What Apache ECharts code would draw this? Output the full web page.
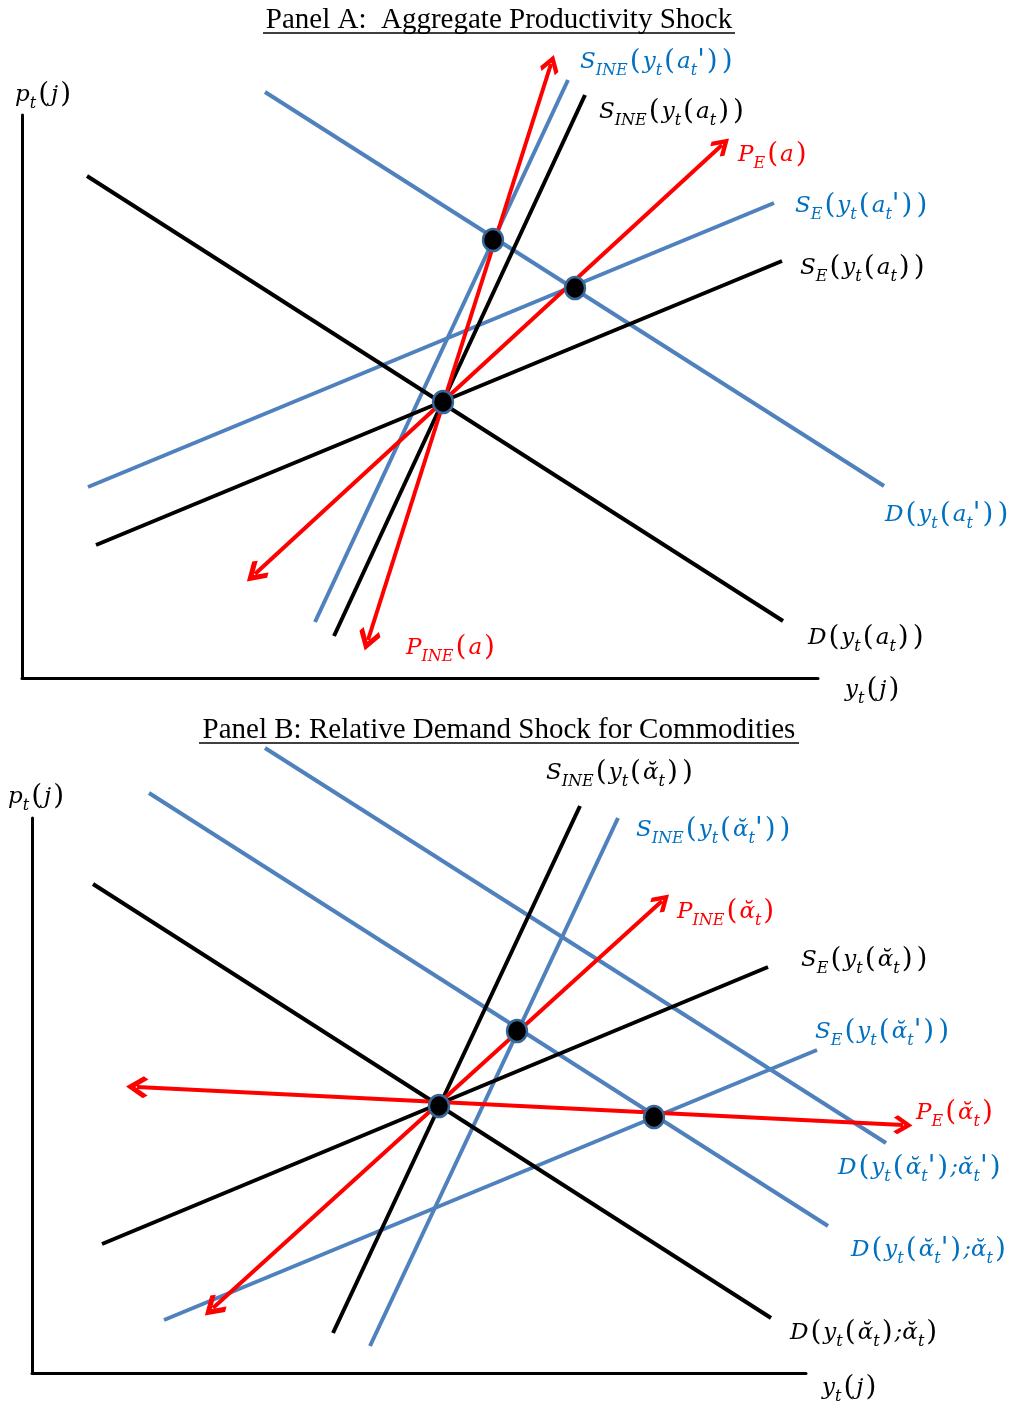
<!DOCTYPE html>
<html><head><meta charset="utf-8">
<script src="https://cdn.jsdelivr.net/npm/echarts@6/dist/echarts.min.js"></script>
<style>html,body{margin:0;padding:0;background:#fff}#c{width:1011px;height:1405px}</style>
</head><body><div id="c"></div>
<script>
// ---- Panel A: line end points (quantity, price), measured from the axis origin ----
const aDemand      = [[65,502],[761,57]];
const aDemandNew   = [[243,586],[862,192]];
const aSupplyE     = [[74,133],[760,417]];
const aSupplyENew  = [[66,191],[752,475]];
const aSupplyINE   = [[312,42],[563,583]];
const aSupplyINENew= [[293,56],[546,598]];
const aPathE       = [[233,104],[700,533]];
const aPathINE     = [[346,38],[529,614]];
const aEquilibria  = [[421,276],[471,438],[553,390]];

// ---- Panel B ----
const bDemand        = [[61,489],[739,55]];
const bDemandNewOld  = [[117,580],[796,147]];
const bDemandNewNew  = [[233,625],[854,230]];
const bSupplyE       = [[70,129],[736,406]];
const bSupplyENew    = [[132,53],[785,323]];
const bSupplyINE     = [[301,40],[548,567]];
const bSupplyINENew  = [[338,27],[586,555]];
const bPathINE       = [[181,65],[630,472]];
const bPathE         = [[105,286],[871,248]];
const bEquilibria    = [[407,267],[485,342],[622,256]];

const titles = ['Panel A:  Aggregate Productivity Shock', 'Panel B: Relative Demand Shock for Commodities'];
const AL = "\u1FB0", PR = "'";
const labelsA = [
  ["S_{INE}(y_{t}(a_{t}"+PR+"))", 'blue', 580, 62],
  ["S_{INE}(y_{t}(a_{t}))", 'black', 599, 112],
  ["P_{E}(a)", 'red', 738, 155],
  ["S_{E}(y_{t}(a_{t}"+PR+"))", 'blue', 795, 206],
  ["S_{E}(y_{t}(a_{t}))", 'black', 800, 268],
  ["D(y_{t}(a_{t}"+PR+"))", 'blue', 885, 515],
  ["D(y_{t}(a_{t}))", 'black', 808, 638],
  ["P_{INE}(a)", 'red', 406, 648],
  ["y_{t}(j)", 'black', 845, 690],
  ["p_{t}(j)", 'black', 15, 95]
];
const labelsB = [
  ["S_{INE}(y_{t}("+AL+"_{t}))", 'black', 546, 773],
  ["S_{INE}(y_{t}("+AL+"_{t}"+PR+"))", 'blue', 636, 830],
  ["P_{INE}("+AL+"_{t})", 'red', 677, 912],
  ["S_{E}(y_{t}("+AL+"_{t}))", 'black', 801, 960],
  ["S_{E}(y_{t}("+AL+"_{t}"+PR+"))", 'blue', 815, 1032],
  ["P_{E}("+AL+"_{t})", 'red', 916, 1113],
  ["D(y_{t}("+AL+"_{t}"+PR+");"+AL+"_{t}"+PR+")", 'blue', 838, 1168],
  ["D(y_{t}("+AL+"_{t}"+PR+");"+AL+"_{t})", 'blue', 851, 1250],
  ["D(y_{t}("+AL+"_{t});"+AL+"_{t})", 'black', 790, 1333],
  ["y_{t}(j)", 'black', 822, 1388],
  ["p_{t}(j)", 'black', 8, 797]
];

const COL = {blue:'#4F81BD', black:'#000000', red:'#FF0000', dotBorder:'#3A6796'};
const TXT = {blue:'#0070C0', black:'#000000', red:'#FF0000'};
const FONT = "'DejaVu Serif',serif";
const CHEV = 'path://M0,0 L10,10 L7.3,12.7 L0,5.4 L-7.3,12.7 L-10,10 Z';

function seg(g, pts, color, z) {
  return {type:'lines', coordinateSystem:'cartesian2d', xAxisIndex:g, yAxisIndex:g, clip:false, silent:true,
    symbol:'none', data:[{coords:pts}], lineStyle:{color:color, width:4, opacity:1, curveness:0}, z:z, animation:false};
}
function arrow(g, pts) {
  return {type:'lines', coordinateSystem:'cartesian2d', xAxisIndex:g, yAxisIndex:g, clip:false, silent:true,
    symbol:[CHEV, CHEV], symbolSize:[22,19], data:[{coords:pts}],
    lineStyle:{color:COL.red, width:4, opacity:1, curveness:0}, z:4, animation:false};
}
function dots(g, pts) {
  return {type:'scatter', xAxisIndex:g, yAxisIndex:g, data:pts, symbol:'circle', symbolSize:[20,22], clip:false,
    itemStyle:{color:'#000', borderColor:COL.dotBorder, borderWidth:2.5, opacity:1}, z:6, silent:true, animation:false};
}
function richText(str) {
  const parts = str.split(/_\{([^}]*)\}/);
  let out = '';
  parts.forEach((p,i)=>{
    if (!p) return;
    if (i % 2) { out += '{s|' + p + '}'; return; }
    p.split(/([()'])/).forEach(q=>{
      if (!q) return;
      if (q === '(' || q === ')') out += '{p|' + q + '}';
      else if (q === "'") out += '{q|' + q + '}';
      else out += '{m|' + q + '}';
    });
  });
  return out;
}
function label(l) {
  const c = TXT[l[1]];
  return {type:'text', x:l[2], y:l[3], z:10, silent:true, style:{
    text: richText(l[0]), verticalAlign:'middle', align:'left',
    rich:{
      m:{fill:c, fontSize:23, fontStyle:'italic', fontFamily:FONT, lineHeight:34, verticalAlign:'middle'},
      q:{fill:c, fontSize:28, fontStyle:'italic', fontFamily:FONT, lineHeight:34, verticalAlign:'middle'},
      p:{fill:c, fontSize:28, fontFamily:FONT, lineHeight:34, verticalAlign:'middle', padding:[0,2,0,2]},
      s:{fill:c, fontSize:16, fontStyle:'italic', fontFamily:FONT, lineHeight:16, verticalAlign:'bottom'}
    }}};
}
function axis(g, max) {
  return {gridIndex:g, type:'value', min:0, max:max, axisLine:{show:true, onZero:false, lineStyle:{color:'#000', width:3}},
    axisTick:{show:false}, axisLabel:{show:false}, splitLine:{show:false}};
}

const chart = echarts.init(document.getElementById('c'), null, {renderer:'canvas'});
const graphic = [];
[[titles[0], 499, 20, 263, 735, 33],[titles[1], 499, 730, 199, 799, 743]].forEach(t=>{
  graphic.push({type:'text', x:t[1], y:t[2], silent:true, style:{text:t[0], fill:'#000', font:"29px 'Liberation Serif'", align:'center', verticalAlign:'middle'}});
  graphic.push({type:'line', silent:true, shape:{x1:t[3], y1:t[5], x2:t[4], y2:t[5]}, style:{stroke:'#000', lineWidth:1.5}});
});
labelsA.concat(labelsB).forEach(l=>graphic.push(label(l)));

chart.setOption({
  animation:false,
  backgroundColor:'#fff',
  grid:[
    {left:22, top:115, width:796, height:563},
    {left:32, top:818, width:774, height:555}
  ],
  xAxis:[axis(0,796), axis(1,774)],
  yAxis:[axis(0,563), axis(1,555)],
  series:[
    seg(0,aDemandNew,COL.blue,2), seg(0,aSupplyENew,COL.blue,2), seg(0,aSupplyINENew,COL.blue,2),
    seg(0,aDemand,COL.black,3), seg(0,aSupplyE,COL.black,3), seg(0,aSupplyINE,COL.black,3),
    arrow(0,aPathE), arrow(0,aPathINE), dots(0,aEquilibria),
    seg(1,bDemandNewOld,COL.blue,2), seg(1,bDemandNewNew,COL.blue,2), seg(1,bSupplyENew,COL.blue,2), seg(1,bSupplyINENew,COL.blue,2),
    seg(1,bDemand,COL.black,3), seg(1,bSupplyE,COL.black,3), seg(1,bSupplyINE,COL.black,3),
    arrow(1,bPathINE), arrow(1,bPathE), dots(1,bEquilibria)
  ],
  graphic: graphic
});
</script>
</body></html>
